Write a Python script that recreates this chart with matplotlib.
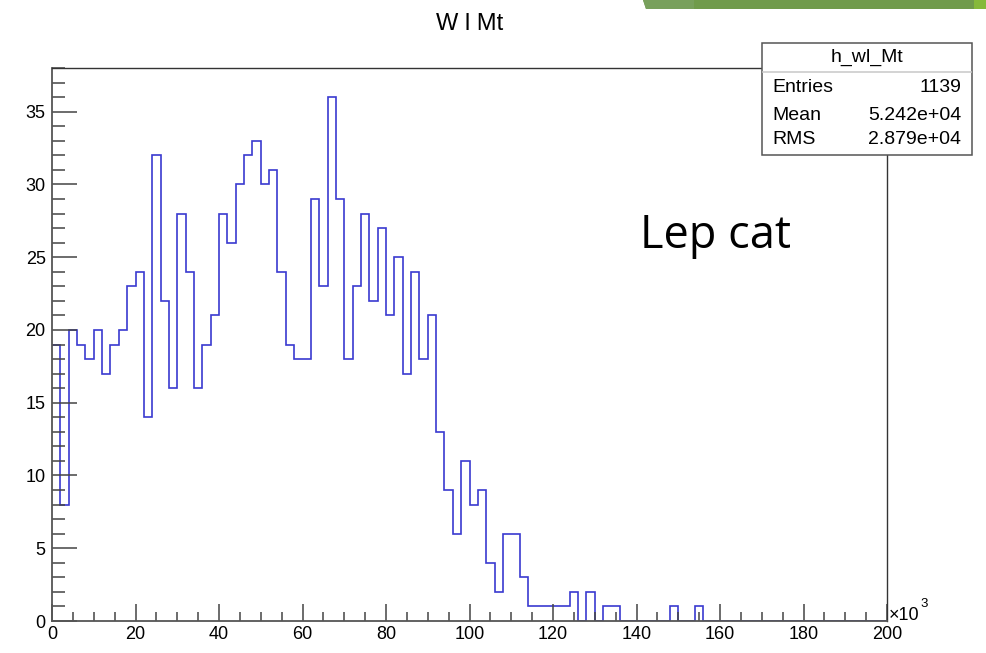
import numpy as np
import matplotlib
matplotlib.use("Agg")
import matplotlib.pyplot as plt
from matplotlib.patches import Rectangle, Polygon
from matplotlib.ticker import MultipleLocator

NARROW = ['Liberation Sans Narrow', 'Liberation Sans', 'DejaVu Sans']
plt.rcParams['font.family'] = NARROW

# ---- data (bin width 2, x in units of 10^3) ----
bin_width = 2
x_min, x_max = 0, 200
counts = [19, 8, 20, 19, 18, 20, 17, 19, 20, 23,
          24, 14, 32, 22, 16, 28, 24, 16, 19, 21,
          28, 26, 30, 32, 33, 30, 31, 24, 19, 18,
          18, 29, 23, 36, 29, 18, 23, 28, 22, 27,
          21, 25, 17, 24, 18, 21, 13, 9, 6, 11,
          8, 9, 4, 2, 6, 6, 3, 1, 1, 1,
          1, 1, 2, 0, 2, 0, 1, 1, 0, 0,
          0, 0, 0, 0, 1, 0, 0, 1, 0, 0,
          0, 0, 0, 0, 0, 0, 0, 0, 0, 0,
          0, 0, 0, 0, 0, 0, 0, 0, 0, 0]
x_ticks = [0, 20, 40, 60, 80, 100, 120, 140, 160, 180, 200]
y_ticks = [0, 5, 10, 15, 20, 25, 30, 35]
title = "W l Mt"
stats_name = "h_wl_Mt"
stats_rows = [("Entries", "1139"), ("Mean", "5.242e+04"), ("RMS", "2.879e+04")]
annotation = "Lep cat"

W, H = 986, 653
fig = plt.figure(figsize=(W / 100, H / 100), dpi=100)

def fx(px):
    return px / W

def fy(py):
    return 1 - py / H

L, R, T, B = 52, 887, 68, 621
ax = fig.add_axes([fx(L), fy(B), fx(R) - fx(L), fy(T) - fy(B)])

edges = np.arange(x_min, x_max + bin_width, bin_width)
ax.stairs(counts, edges, color='#3a3ad0', linewidth=1.2, baseline=None)

ax.set_xlim(x_min, x_max)
ax.set_ylim(0, 38.0)
ax.set_xticks(x_ticks)
ax.set_yticks(y_ticks)
ax.xaxis.set_minor_locator(MultipleLocator(5))
ax.yaxis.set_minor_locator(MultipleLocator(1))
ax.tick_params(axis='both', which='both', direction='in', color='#444444', width=1.1,
               labelsize=13, labelcolor='black')
ax.tick_params(axis='y', which='major', length=18, pad=4.5)
ax.tick_params(axis='y', which='minor', length=9.5)
ax.tick_params(axis='x', which='major', length=12.5, pad=3.5)
ax.tick_params(axis='x', which='minor', length=6.5)
ax.tick_params(top=False, right=False, which='both')
for side in ['left', 'bottom']:
    ax.spines[side].set_color('#555555')
    ax.spines[side].set_linewidth(1.3)
for side in ['top', 'right']:
    ax.spines[side].set_color('#333333')
    ax.spines[side].set_linewidth(1.0)

# exponent label
fig.text(fx(889), fy(620), "\u00d710", fontsize=13, ha='left', va='baseline')
fig.text(fx(920), fy(607), "3", fontsize=9.5, ha='left', va='baseline')

# title
fig.text(fx(470), fy(24), title, fontsize=17, ha='center', va='center')

# stats box
bx0, by0, bx1, by1 = 762, 43, 972, 155
fig.add_artist(Rectangle((fx(bx0), fy(by1)), fx(bx1) - fx(bx0), fy(by0) - fy(by1),
                         transform=fig.transFigure, facecolor='white',
                         edgecolor='#555555', linewidth=1.1, zorder=10))
fig.add_artist(plt.Line2D([fx(bx0 + 1), fx(bx1 - 1)], [fy(72), fy(72)],
                          transform=fig.transFigure, color='#cccccc', linewidth=1.2, zorder=11))
fig.text(fx((bx0 + bx1) / 2), fy(57), stats_name, fontsize=14, ha='center', va='center', zorder=12)
for (lab, val), yc in zip(stats_rows, [88, 115, 140]):
    fig.text(fx(772), fy(yc), lab, fontsize=14, ha='left', va='center', zorder=12)
    fig.text(fx(961), fy(yc), val, fontsize=14, ha='right', va='center', zorder=12)

# annotation
fig.text(fx(640), fy(248), annotation, fontsize=32.5, ha='left', va='baseline',
         family=['Open Sans', 'DejaVu Sans'])

# green banner at top right
fig.add_artist(Polygon([(fx(643), fy(0)), (fx(986), fy(0)), (fx(986), fy(9)), (fx(646), fy(9))],
                       closed=True, transform=fig.transFigure, facecolor='#709b4b',
                       edgecolor='none', zorder=5))
fig.add_artist(Polygon([(fx(643), fy(0)), (fx(694), fy(0)), (fx(694), fy(9)), (fx(646), fy(9))],
                       closed=True, transform=fig.transFigure, facecolor='#78a05c',
                       edgecolor='none', zorder=6))
fig.add_artist(Rectangle((fx(974), fy(9)), fx(986) - fx(974), fy(0) - fy(9),
                         transform=fig.transFigure, facecolor='#86b93a',
                         edgecolor='none', zorder=6))

fig.savefig("out.png", dpi=100)
